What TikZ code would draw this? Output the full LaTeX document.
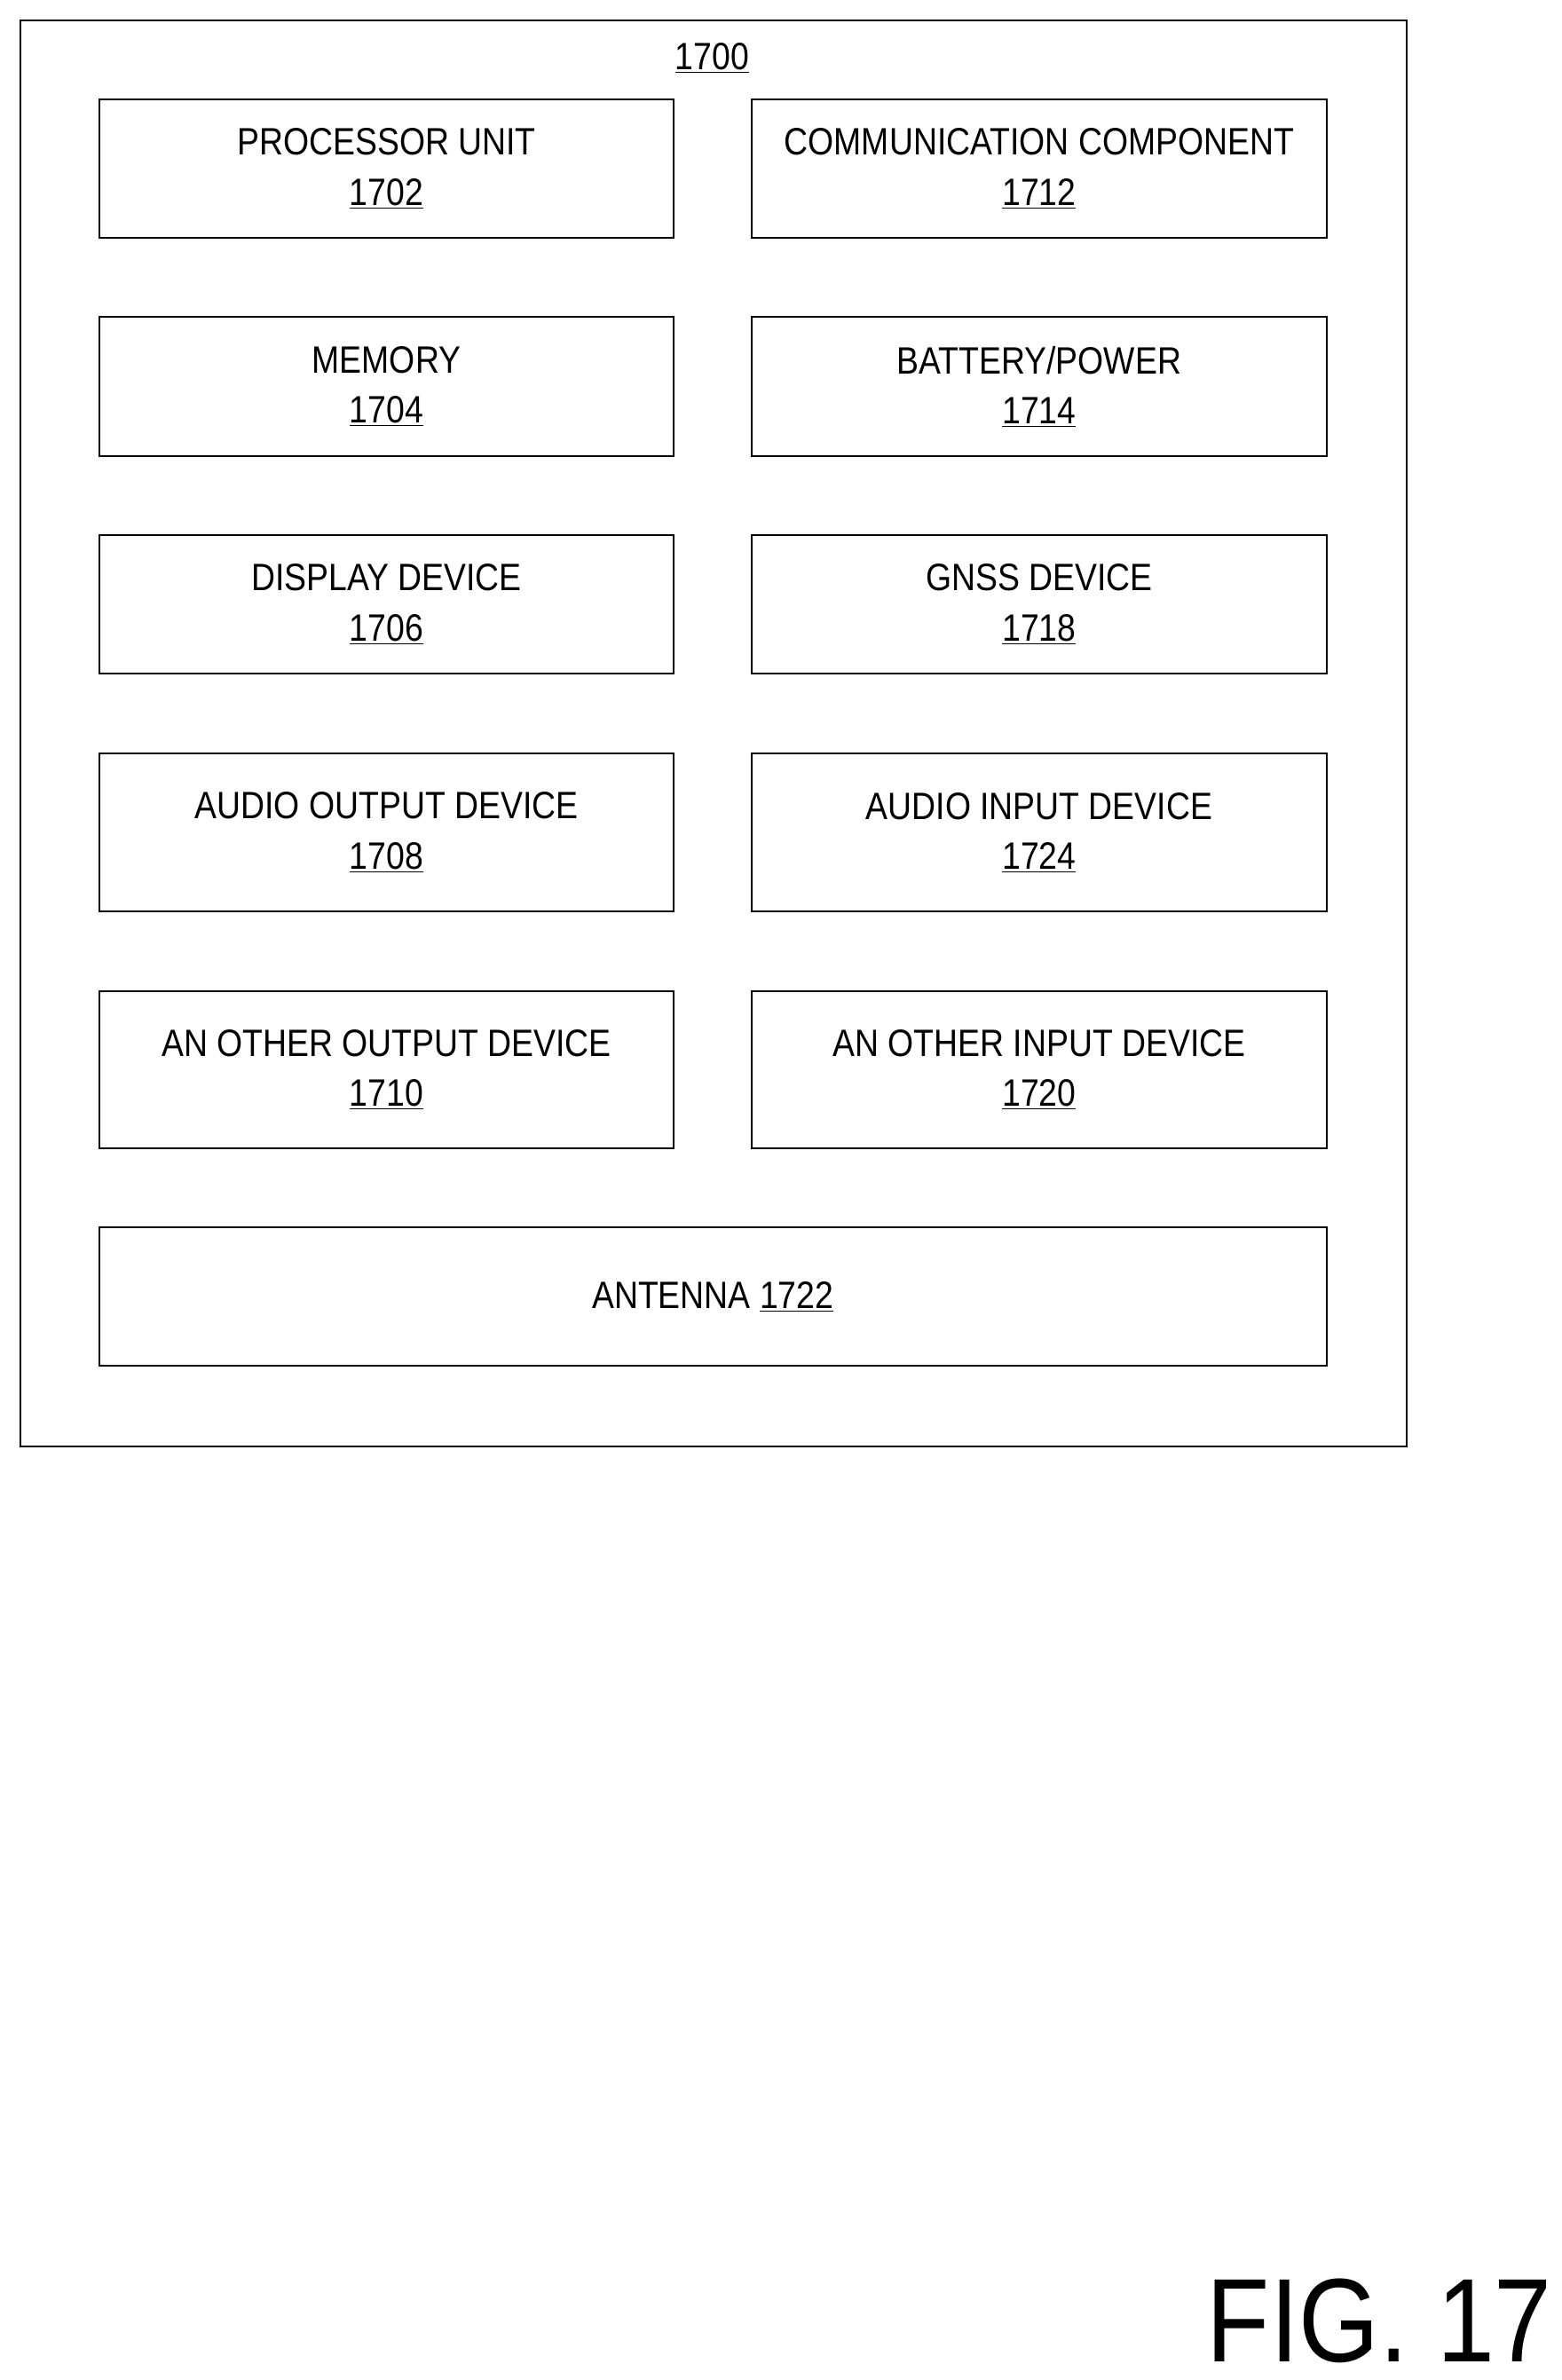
\documentclass[tikz,border=0pt]{standalone}
\usepackage{fontspec}
\setmainfont{Liberation Sans}[FakeStretch=0.87]
\begin{document}
\begin{tikzpicture}[x=1pt,y=-1pt,
 box/.style={draw,line width=1.2pt,inner sep=0pt},
 lbl/.style={font=\fontsize{25}{30}\selectfont,align=center}]
\useasboundingbox (0,0) rectangle (1024,1561);
\node[box,minimum width=909,minimum height=935,anchor=north west] (outer) at (13,13) {};
\node[lbl] (t1700) at (467,38) {\underline{1700}};
\newcommand{\blk}[6]{%
 \draw[line width=1.2pt] (#1,#2) rectangle (#3,#4);
 \node[lbl] (#5) at ({(#1+#3)/2},{(#2+#4)/2}) {#6};}
\blk{65}{65}{442}{156}{p}{PROCESSOR UNIT\\[3pt]\underline{1702}}
\blk{493}{65}{870}{156}{c}{COMMUNICATION COMPONENT\\[3pt]\underline{1712}}
\blk{65}{208}{442}{299}{m}{MEMORY\\[3pt]\underline{1704}}
\blk{493}{208}{870}{299}{b}{BATTERY/POWER\\[3pt]\underline{1714}}
\blk{65}{351}{442}{442}{d}{DISPLAY DEVICE\\[3pt]\underline{1706}}
\blk{493}{351}{870}{442}{g}{GNSS DEVICE\\[3pt]\underline{1718}}
\blk{65}{494}{442}{598}{ao}{AUDIO OUTPUT DEVICE\\[3pt]\underline{1708}}
\blk{493}{494}{870}{598}{ai}{AUDIO INPUT DEVICE\\[3pt]\underline{1724}}
\blk{65}{650}{442}{753}{oo}{AN OTHER OUTPUT DEVICE\\[3pt]\underline{1710}}
\blk{493}{650}{870}{753}{oi}{AN OTHER INPUT DEVICE\\[3pt]\underline{1720}}
\blk{65}{805}{870}{896}{ant}{ANTENNA \underline{1722}}
\node[font=\fontsize{78}{86}\selectfont,inner sep=0pt,anchor=east] (fig) at (1018,1522) {FIG. 17};
\end{tikzpicture}
\end{document}
